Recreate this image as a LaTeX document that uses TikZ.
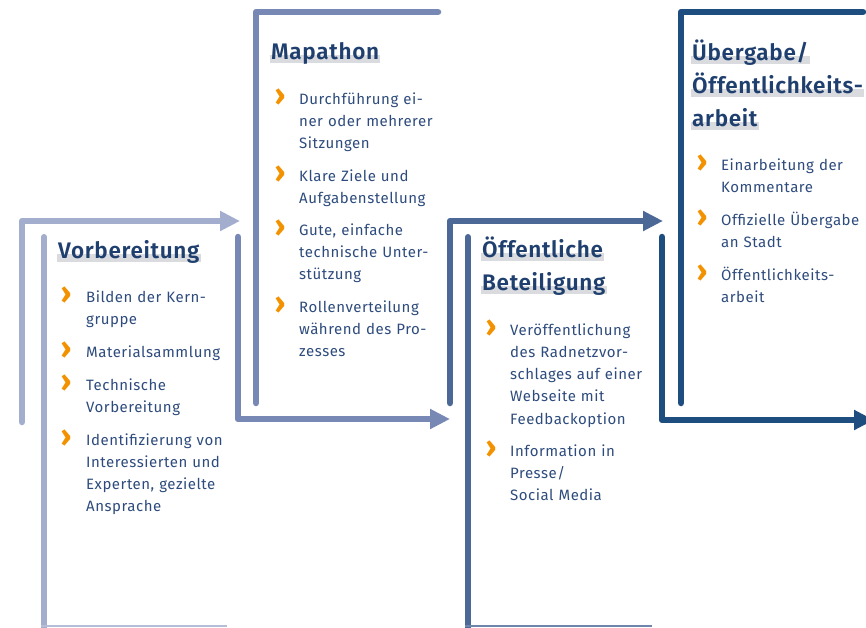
\documentclass[tikz,border=0pt]{standalone}
\usepackage{fontspec}
\setmainfont{Fira Sans}
\newfontfamily\stagehead[LetterSpace=3, BoldFont={Fira Sans SemiBold}]{Fira Sans}
\newfontfamily\stagebody[LetterSpace=3.5]{Fira Sans}
\usetikzlibrary{arrows.meta,backgrounds}

\definecolor{stageA}{HTML}{A3ADCD}
\definecolor{stageB}{HTML}{7888B5}
\definecolor{stageC}{HTML}{4B6897}
\definecolor{stageD}{HTML}{1E4D80}
\definecolor{bodyblue}{HTML}{2D4B7C}
\definecolor{titleblue}{HTML}{1F3F6F}
\definecolor{markorange}{HTML}{F39200}
\definecolor{hlgrey}{HTML}{DADBDF}

\begin{document}
\begin{tikzpicture}[x=1pt,y=-1pt,
  flow/.style={line width=6.5pt, line cap=round, line join=round},
  tipped/.style={-{Triangle[length=20pt,width=19pt]}},
  bar/.style={line width=6pt, line cap=round},
  baseline rule/.style={line width=2pt},
  title/.style={anchor=base west, inner sep=0pt, font=\stagehead\bfseries\fontsize{22.5}{26}\selectfont, text=titleblue},
  body/.style={anchor=base west, inner sep=0pt, text width=180pt, align=left, font=\stagebody\fontsize{15}{22.3}\selectfont, text=bodyblue},
  chev/.style={anchor=base, inner sep=0pt, font=\bfseries\fontsize{30}{30}\selectfont, text=markorange},
  hl/.style={fill=hlgrey}]
\useasboundingbox (0,0) rectangle (866,627);
\clip (0,0) rectangle (866,627);

% frame and flow arrows of the four stages
\coordinate (a0) at (22,422);  \coordinate (a1) at (22,221);  \coordinate (a2) at (240,221);
\coordinate (b0) at (238,237); \coordinate (b1) at (238,419); \coordinate (b2) at (450,419);
\coordinate (c0) at (450,403); \coordinate (c1) at (450,221); \coordinate (c2) at (663,221);
\coordinate (d0) at (662,237); \coordinate (d1) at (662,420); \coordinate (d2) at (874,420);

\draw[flow,tipped,stageA] (a0) -- (a1) -- (a2);
\draw[bar,stageA] (44,237) -- (44,640);
\draw[baseline rule,stageA!80] (41,626) -- (227,626);

\draw[flow,tipped,stageB] (b0) -- (b1) -- (b2);
\draw[flow,stageB] (256,403) -- (256,12) -- (438,12);

\draw[flow,tipped,stageC] (c0) -- (c1) -- (c2);
\draw[bar,stageC] (468,237) -- (468,640);
\draw[baseline rule,stageC!80] (465,626) -- (652,626);

\draw[flow,tipped,stageD] (d0) -- (d1) -- (d2);
\draw[flow,stageD] (681,403) -- (681,12) -- (863,12);

% stage 1
\node[title] (t1) at (58,258) {Vorbereitung};
\node[chev] (m11) at (66,303) {›};
\node[body] (p11) at (86,302) {Bilden der Kern-\\gruppe};
\node[chev] (m12) at (66,358) {›};
\node[body] (p12) at (86,357) {Materialsammlung};
\node[chev] (m13) at (66,391) {›};
\node[body] (p13) at (86,390) {Technische\\Vorbereitung};
\node[chev] (m14) at (66,446) {›};
\node[body] (p14) at (86,445) {Identifizierung von\\Interessierten und\\Experten, gezielte\\Ansprache};

% stage 2
\node[title] (t2) at (271,59) {Mapathon};
\node[chev] (m21) at (280,105) {›};
\node[body] (p21) at (299,104) {Durchführung ei-\\ner oder mehrerer\\Sitzungen};
\node[chev] (m22) at (280,182) {›};
\node[body] (p22) at (299,181) {Klare Ziele und\\Aufgabenstellung};
\node[chev] (m23) at (280,236) {›};
\node[body] (p23) at (299,235) {Gute, einfache\\technische Unter-\\stützung};
\node[chev] (m24) at (280,313) {›};
\node[body] (p24) at (299,312) {Rollenverteilung\\während des Pro-\\zesses};

% stage 3
\node[title] (t3a) at (482,257) {Öffentliche};
\node[title] (t3b) at (482,290) {Beteiligung};
\node[chev] (m31) at (491,336) {›};
\node[body] (p31) at (510,335) {Veröffentlichung\\des Radnetzvor-\\schlages auf einer\\Webseite mit\\Feedbackoption};
\node[chev] (m32) at (491,457) {›};
\node[body] (p32) at (510,456) {Information in\\Presse/\\Social Media};

% stage 4
\node[title] (t4a) at (692,60) {Übergabe/};
\node[title] (t4b) at (692,93) {Öffentlichkeits-};
\node[title] (t4c) at (692,126) {arbeit};
\node[chev] (m41) at (702,171) {›};
\node[body] (p41) at (721,170) {Einarbeitung der\\Kommentare};
\node[chev] (m42) at (702,226) {›};
\node[body] (p42) at (721,225) {Offizielle Übergabe\\an Stadt};
\node[chev] (m43) at (702,281) {›};
\node[body] (p43) at (721,280) {Öffentlichkeits-\\arbeit};

% grey marker band under each heading line
\begin{scope}[on background layer]
  \foreach \t in {t1,t2,t3a,t3b,t4a,t4b,t4c}
    \fill[hl] ([xshift=-1pt,yshift=-4pt]\t.base west) rectangle ([xshift=1pt,yshift=4pt]\t.base east);
\end{scope}
\end{tikzpicture}
\end{document}
